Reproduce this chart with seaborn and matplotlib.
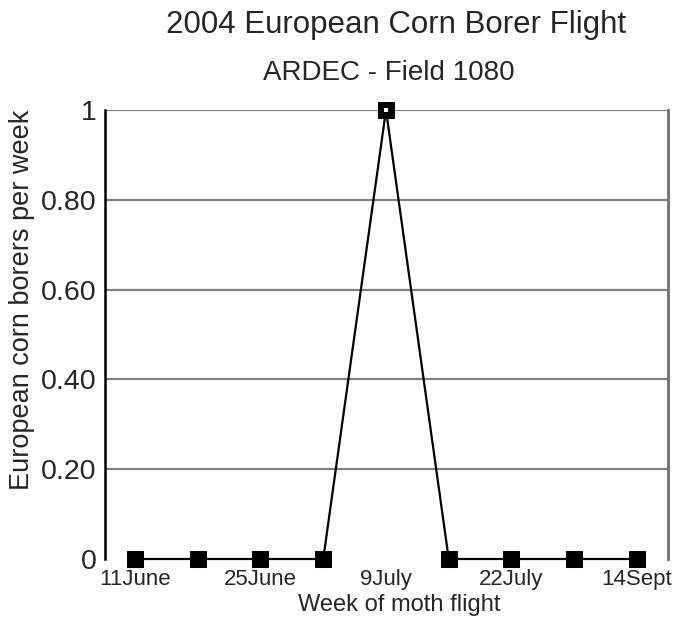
import matplotlib
matplotlib.use("Agg")
import matplotlib.pyplot as plt
import seaborn as sns
import pandas as pd

week_index = [0, 1, 2, 3, 4, 5, 6, 7, 8]
borers = [0, 0, 0, 0, 1, 0, 0, 0, 0]
tick_positions = [0, 2, 4, 6, 8]
tick_labels = ["11June", "25June", "9July", "22July", "14Sept"]
y_ticks = [0, 0.2, 0.4, 0.6, 0.8, 1.0]
y_tick_labels = ["0", "0.20", "0.40", "0.60", "0.80", "1"]

sns.set_theme(style="white")
plt.rcParams["font.family"] = ["Liberation Sans", "DejaVu Sans"]

df = pd.DataFrame({"week": week_index, "borers": borers})

fig = plt.figure(figsize=(6.73, 6.24), dpi=100)
ax = fig.add_axes([105 / 673, 1 - 559 / 624, (668 - 105) / 673, (559 - 110) / 624])

for y in y_ticks[1:]:
    ax.axhline(y, color="#808080", lw=1.6, zorder=1)

sns.lineplot(data=df, x="week", y="borers", ax=ax, color="black", lw=1.6,
             marker="s", markersize=12, markeredgecolor="black",
             markerfacecolor="black", zorder=3, clip_on=False)

peak = df[df["borers"] == df["borers"].max()]
sns.scatterplot(data=peak, x="week", y="borers", ax=ax, color="white",
                marker="s", s=5, linewidth=0, zorder=4, clip_on=False)

ax.set_xlim(-0.478, 8.494)
ax.set_ylim(0, 1)
ax.set_xticks(tick_positions)
ax.set_xticklabels(tick_labels, fontsize=16)
ax.set_yticks(y_ticks)
ax.set_yticklabels(y_tick_labels, fontsize=20.5)
ax.tick_params(axis="both", length=0)
ax.tick_params(axis="x", pad=7)
ax.tick_params(axis="y", pad=6)

ax.spines["left"].set_color("black")
ax.spines["left"].set_linewidth(1.8)
ax.spines["right"].set_color("#707070")
ax.spines["right"].set_linewidth(2)
ax.spines["top"].set_visible(False)
ax.spines["bottom"].set_visible(False)

ax.set_xlabel("Week of moth flight", fontsize=17, labelpad=3)
ax.xaxis.label.set_x(0.522)
ax.set_ylabel("European corn borers per week", fontsize=19.5, labelpad=4)
ax.yaxis.label.set_y(0.577)

fig.text(396 / 673, 1 - 33 / 624, "2004 European Corn Borer Flight",
         ha="center", va="baseline", fontsize=22.5)
fig.text(389 / 673, 1 - 80 / 624, "ARDEC - Field 1080",
         ha="center", va="baseline", fontsize=20)

fig.savefig("out.png", dpi=100)
